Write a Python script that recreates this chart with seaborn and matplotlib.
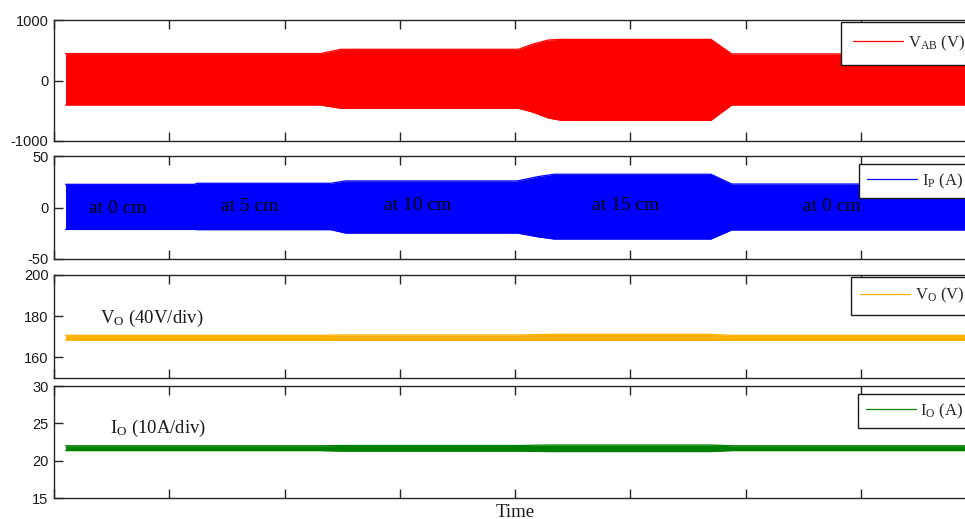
import numpy as np
import pandas as pd
import matplotlib
matplotlib.use("Agg")
import matplotlib.pyplot as plt
import seaborn as sns

# ---------------- data ----------------
# envelope breakpoints of the dense switching waveforms (time in tick units)
t_vab = [0.10, 2.31, 2.49, 4.03, 4.15, 4.29, 4.40, 5.70, 5.88, 8.10]
vab_upper = [445, 445, 516, 516, 600, 670, 680, 680, 440, 440]
vab_lower = [-405, -405, -460, -460, -520, -620, -658, -658, -405, -405]

t_ip = [0.10, 1.22, 1.24, 2.40, 2.53, 4.02, 4.20, 4.34, 5.70, 5.88, 8.10]
ip_upper = [22.5, 22.5, 23.5, 23.5, 25.8, 25.8, 30.0, 32.3, 32.3, 22.8, 22.8]
ip_lower = [-21.3, -21.3, -21.5, -21.5, -24.8, -24.8, -28.5, -30.6, -30.6, -21.8, -21.8]

t_vo = [0.10, 2.31, 2.49, 4.03, 4.29, 5.70, 5.88, 8.10]
vo_upper = [170.7, 170.7, 170.9, 170.9, 171.2, 171.2, 170.7, 170.7]
vo_lower = [168.4, 168.4, 168.3, 168.3, 168.3, 168.3, 168.4, 168.4]

t_io = [0.10, 2.31, 2.49, 4.03, 4.29, 5.70, 5.88, 8.10]
io_upper = [22.00, 22.00, 22.03, 22.03, 22.10, 22.10, 22.00, 22.00]
io_lower = [21.35, 21.35, 21.28, 21.28, 21.22, 21.22, 21.35, 21.35]

positions = ["at 0 cm", "at 5 cm", "at 10 cm", "at 15 cm", "at 0 cm"]
position_t = [0.557, 1.70, 3.16, 4.96, 6.75]
position_y = [-1.0, 0.8, 2.4, 2.4, 0.8]

legend_labels = [r"V$_{\mathrm{AB}}$ (V)", r"I$_{\mathrm{P}}$ (A)",
                 r"V$_{\mathrm{O}}$ (V)", r"I$_{\mathrm{O}}$ (A)"]
colors = ["#FF0000", "#0000FF", "#FFB000", "#008000"]
yticks = [[-1000, 0, 1000], [-50, 0, 50], [160, 180, 200], [15, 20, 25, 30]]
ylims = [(-1000, 1000), (-50, 50), (150, 200), (15, 30)]
xticks = list(range(0, 9))

# ---------------- style ----------------
sns.set_style("white")
plt.rcParams.update({
    "font.family": ["Liberation Sans", "DejaVu Sans"],
    "mathtext.fontset": "custom",
    "mathtext.rm": "Liberation Serif",
    "mathtext.it": "Liberation Serif:italic",
    "mathtext.bf": "Liberation Serif:bold",
    "axes.unicode_minus": False,
    "axes.edgecolor": "#262626",
    "axes.linewidth": 1.0,
})
SERIF = ["Liberation Serif", "DejaVu Serif"]

W, H = 965, 519
fig = plt.figure(figsize=(W / 100, H / 100), dpi=100)

panel_px = [(20, 141), (156, 259), (275, 378), (386, 498)]
legend_px = [(841, 22), (859, 164), (851, 277), (858, 394)]
legend_borderpad = [0.7, 0.45, 0.55, 0.45]
series = [(t_vab, vab_upper, vab_lower), (t_ip, ip_upper, ip_lower),
          (t_vo, vo_upper, vo_lower), (t_io, io_upper, io_lower)]

axes = []
for i, (top, bot) in enumerate(panel_px):
    ax = fig.add_axes([54 / W, 1 - bot / H, 922 / W, (bot - top) / H])
    axes.append(ax)
    t, up, lo = series[i]
    df = pd.DataFrame({"t": t, "up": up, "lo": lo})
    sns.lineplot(data=df, x="t", y="up", ax=ax, color=colors[i], lw=0.9,
                 estimator=None, sort=False, label=legend_labels[i])
    sns.lineplot(data=df, x="t", y="lo", ax=ax, color=colors[i], lw=0.9,
                 estimator=None, sort=False, legend=False)
    ax.fill_between(df["t"], df["lo"], df["up"], color=colors[i], lw=0)

    ax.set_xlim(0, 8)
    ax.set_ylim(*ylims[i])
    ax.set_xticks(xticks)
    ax.set_yticks(yticks[i])
    ax.set_yticklabels([str(v) for v in yticks[i]])
    ax.tick_params(axis="both", direction="in", length=6.5, width=1.0,
                   top=True, right=True, bottom=True, left=True,
                   labelbottom=False, labelsize=10.5, pad=4,
                   colors="#262626", labelcolor="#1a1a1a")
    ax.set_xlabel("")
    ax.set_ylabel("")
    for s in ax.spines.values():
        s.set_visible(True)
        s.set_color("#262626")

    handles, labels = ax.get_legend_handles_labels()
    lx, ly = legend_px[i]
    leg = ax.legend(handles[:1], labels[:1], loc="upper left",
                    bbox_to_anchor=(lx / W, 1 - ly / H),
                    bbox_transform=fig.transFigure, borderaxespad=0,
                    frameon=True, fancybox=False, framealpha=1,
                    edgecolor="#1a1a1a", prop={"family": SERIF, "size": 12},
                    handlelength=3.0, handletextpad=0.3,
                    borderpad=legend_borderpad[i])
    leg.get_frame().set_linewidth(1.0)

# position annotations in the primary-current panel
for txt, tx, ty in zip(positions, position_t, position_y):
    axes[1].text(tx, ty, txt, ha="center", va="center", fontsize=14,
                 family=SERIF, color="black")

axes[2].text(0.40, 176.7, r"V$_{\mathrm{O}}$ (40V/div)", ha="left",
             va="baseline", fontsize=13.5, family=SERIF, color="#1a1a1a")
axes[3].text(0.487, 23.67, r"I$_{\mathrm{O}}$ (10A/div)", ha="left",
             va="baseline", fontsize=13.5, family=SERIF, color="#1a1a1a")

axes[3].set_xlabel("Time", fontsize=13.5, family=SERIF, labelpad=4,
                   color="#1a1a1a")

fig.savefig("out.png", dpi=100)
